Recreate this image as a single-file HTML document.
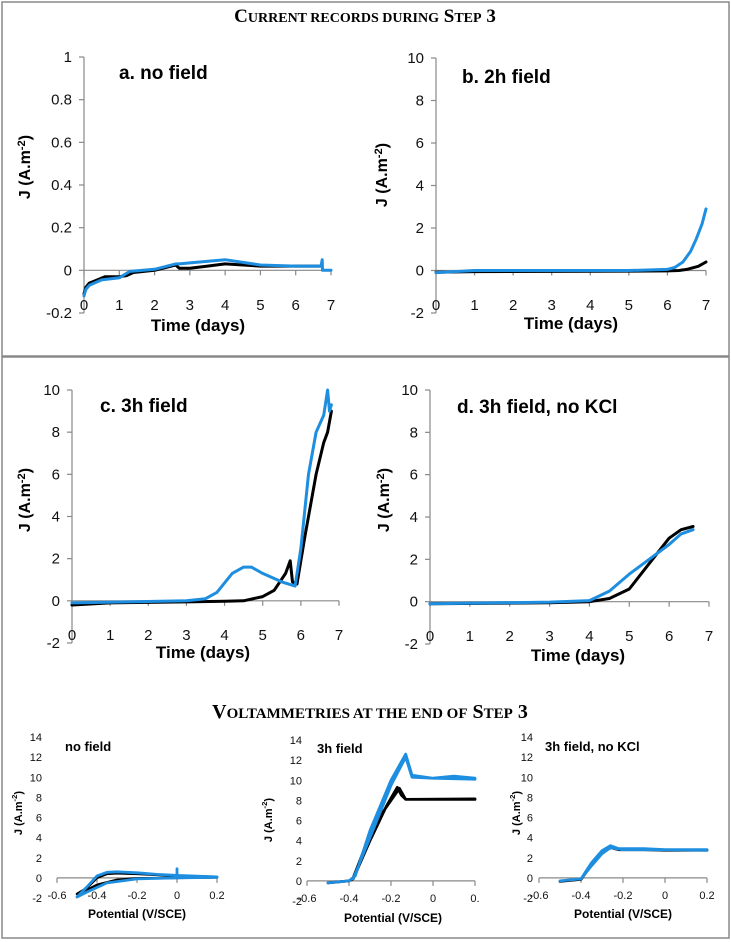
<!DOCTYPE html>
<html><head><meta charset="utf-8"><style>
html,body{margin:0;padding:0;background:#fff;}
svg{display:block;font-family:"Liberation Sans Narrow","Liberation Sans",sans-serif;}
.tk{font-size:15px;fill:#111;}
.tks{font-size:11px;fill:#111;}
.ttl{font-weight:bold;fill:#000;}
</style></head><body>
<svg id="fig" width="731" height="942" viewBox="0 0 731 942">
<rect x="2" y="2" width="727" height="354" fill="none" stroke="#888" stroke-width="1.5"/>
<rect x="2" y="357" width="727" height="581" fill="none" stroke="#888" stroke-width="1.5"/>
<text x="365" y="22" text-anchor="middle" font-family="Liberation Serif,serif" font-weight="bold" font-size="19">C<tspan font-size="14">URRENT RECORDS DURING</tspan> S<tspan font-size="14">TEP</tspan> 3</text>
<text x="370" y="718" text-anchor="middle" font-family="Liberation Serif,serif" font-weight="bold" font-size="20">V<tspan font-size="15">OLTAMMETRIES AT THE END OF</tspan> S<tspan font-size="15">TEP</tspan> 3</text>
<g id="charts"></g>
</svg>
<script>
// ---- chart a: no field ----
const aBlackX=[0,0.05,0.15,0.3,0.6,1.0,1.2,1.4,2,2.6,2.7,3,3.5,4,5,6,6.7];
const aBlackY=[-0.11,-0.08,-0.06,-0.05,-0.03,-0.03,-0.025,-0.01,0,0.025,0.01,0.01,0.02,0.03,0.02,0.02,0.02];
const aBlueX=[0,0.05,0.15,0.5,1,1.3,2,2.6,2.7,3,4,5,6,6.72,6.75,6.76,7];
const aBlueY=[-0.12,-0.09,-0.07,-0.045,-0.035,-0.005,0.005,0.03,0.03,0.035,0.05,0.025,0.02,0.02,0.05,0,0];
// ---- chart b: 2h field ----
const bBlackX=[0,1,3,5,6,6.3,6.5,6.8,7];
const bBlackY=[-0.08,-0.05,-0.04,-0.03,-0.02,0,0.05,0.2,0.4];
const bBlueX=[0,1,3,5,6,6.2,6.4,6.6,6.75,6.9,7];
const bBlueY=[-0.1,0,0,0,0.05,0.15,0.4,0.9,1.5,2.2,2.9];
// ---- chart c: 3h field ----
const cBlackX=[0,1,3,4,4.5,5,5.3,5.6,5.72,5.78,5.9,6.1,6.4,6.6,6.7,6.8];
const cBlackY=[-0.2,-0.1,-0.05,-0.02,0,0.2,0.5,1.3,1.9,0.9,0.8,3,6,7.5,8,9];
const cBlueX=[0,3,3.5,3.8,4.2,4.5,4.7,5,5.5,5.85,6,6.2,6.4,6.6,6.7,6.75,6.8];
const cBlueY=[-0.1,0,0.1,0.4,1.3,1.6,1.6,1.3,0.9,0.7,2.5,6,8,8.8,10,9,9.3];
// ---- chart d: 3h field, no KCl ----
const dBlackX=[0,3,4,4.5,5,5.5,6,6.3,6.6];
const dBlackY=[-0.1,-0.05,0,0.15,0.6,1.8,3,3.4,3.55];
const dBlueX=[0,3,4,4.5,5,5.5,6,6.3,6.6];
const dBlueY=[-0.1,-0.02,0.05,0.5,1.3,2,2.7,3.2,3.4];
// ---- CV 1: no field ----
const v1BlackX=[-0.5,-0.45,-0.4,-0.35,-0.3,-0.2,-0.1,0,0.2,0.2,0,-0.2,-0.3,-0.4,-0.45,-0.5];
const v1BlackY=[-1.6,-1,0,0.4,0.45,0.4,0.3,0.2,0.1,0.05,0,-0.05,-0.2,-0.7,-1.2,-1.6];
const v1BlueX=[-0.5,-0.45,-0.4,-0.35,-0.3,-0.2,-0.1,0,0,0,0.2,0.2,0,-0.2,-0.35,-0.45,-0.5];
const v1BlueY=[-1.9,-0.9,0.2,0.55,0.6,0.5,0.35,0.25,0.9,0.25,0.1,0.05,0,-0.1,-0.5,-1.4,-1.9];
// ---- CV 2: 3h field ----
const v2BlackX=[-0.5,-0.4,-0.38,-0.3,-0.22,-0.17,-0.15,-0.13,0,0.2,0.2,-0.13,-0.16,-0.25,-0.33,-0.38];
const v2BlackY=[-0.2,0,0.2,4,7.5,9.3,8.5,8.1,8.1,8.1,8.15,8.1,9.2,6.5,3,0.3];
const v2BlueX=[-0.5,-0.4,-0.37,-0.3,-0.2,-0.13,-0.1,0,0.1,0.2,0.2,0,-0.1,-0.13,-0.2,-0.3,-0.38];
const v2BlueY=[-0.2,0,0.5,5,10,12.6,10.5,10.2,10.4,10.2,10.1,10.2,10.3,12.3,9.5,4.3,0.2];
// ---- CV 3: 3h field, no KCl ----
const v3BlackX=[-0.5,-0.4,-0.35,-0.3,-0.26,-0.22,-0.1,0,0.2];
const v3BlackY=[-0.35,-0.15,1.3,2.5,3.0,2.8,2.8,2.75,2.75];
const v3BlueX=[-0.5,-0.4,-0.35,-0.3,-0.26,-0.22,-0.1,0,0.2,0.2,0,-0.2,-0.26,-0.3,-0.35,-0.4];
const v3BlueY=[-0.3,-0.1,1.5,2.7,3.2,2.9,2.9,2.8,2.8,2.75,2.8,2.8,3,2.4,1.2,-0.1];
// ---- tick labels ----
const aYTicks=["-0.2","0","0.2","0.4","0.6","0.8","1"];
const bigYTicks=["-2","0","2","4","6","8","10"];
const dayTicks=["0","1","2","3","4","5","6","7"];
const cvYTicks=["-2","0","2","4","6","8","10","12","14"];
const cvXTicks=["-0.6","-0.4","-0.2","0","0.2"];
const cvXTicks2=["-0.6","-0.4","-0.2","0","0."];
const cvXValues=[-0.6,-0.4,-0.2,0,0.2];

const NS="http://www.w3.org/2000/svg";
const root=document.getElementById('charts');
function mk(tag,attrs,parent){const e=document.createElementNS(NS,tag);for(const k in attrs)e.setAttribute(k,attrs[k]);(parent||root).appendChild(e);return e;}

function chart(o){
  const g=mk('g',{});
  
  
  const sx=v=>o.x0+(v-o.xmin)/(o.xmax-o.xmin)*(o.x1-o.x0);
  const sy=v=>o.y0+(v-o.ymin)/(o.ymax-o.ymin)*(o.y1-o.y0);
  const small=o.small;
  if(!small){
    const ya=mk('line',{x1:sx(o.xmin),x2:sx(o.xmin),y1:sy(o.ymin),y2:sy(o.ymax),stroke:'#888','stroke-width':1.2},g);
    
    
  }
  o.yticks.forEach((t,i)=>{
    const v=parseFloat(t);const y=sy(v);
    if(!small){const tl=mk('line',{x1:sx(o.xmin)-5,x2:sx(o.xmin),y1:y,y2:y,stroke:'#888','stroke-width':1.2},g);
      
      }
    const tx=mk('text',{x:small?o.ylabX:sx(o.xmin)-12,y:y+(small?4:5),'text-anchor':'end',class:small?'tks':'tk'},g);
    tx.textContent=t;
    
    
  });
  const y0=sy(0);
  const xa=mk('line',{x1:sx(o.xmin),x2:sx(o.xmax),y1:y0,y2:y0,stroke:'#888','stroke-width':1.2},g);
  
  
  o.xticks.forEach((t,i)=>{
    const v=o.xvals?o.xvals[i]:parseFloat(t);const x=sx(v);
    const tl=mk('line',{x1:x,x2:x,y1:y0,y2:y0+5,stroke:'#888','stroke-width':1.2},g);
    
    
    const tx=mk('text',{x:x,y:small?sy(o.ymin)+1:sy(o.ymin)-3,'text-anchor':'middle',class:small?'tks':'tk'},g);
    tx.textContent=t;
    
    
  });
  o.series.forEach(s=>{
    const d=s.x.map((v,i)=>(i?'L':'M')+sx(v).toFixed(1)+','+sy(s.y[i]).toFixed(1)).join('');
    const p=mk('path',{d:d,fill:'none',stroke:s.c,'stroke-width':s.w,'stroke-linejoin':'round','stroke-linecap':'round'},g);
    
    
  });
  const pt=mk('text',{x:o.tx,y:o.ty,class:'ttl','font-size':small?13:19},g);
  pt.textContent=o.title;
  
  
  const xl=mk('text',{x:o.xlx,y:o.xly,'text-anchor':'middle',class:'ttl','font-size':small?12:17},g);
  xl.textContent=o.xlabel;
  
  
  const yl=mk('text',{x:0,y:0,'text-anchor':'middle',class:'ttl','font-size':small?11:16,transform:`translate(${o.ylx},${o.yly}) rotate(-90)`},g);
  yl.innerHTML='J (A.m<tspan dy="-5" font-size="0.7em">-2</tspan><tspan dy="5">)</tspan>';
  
  
}
const BLK='#000',BLU='#1e8ee0';
chart({name:'chart-a-no-field',x0:84,x1:331,xmin:0,xmax:7,y0:313,y1:57,ymin:-0.2,ymax:1,yticks:aYTicks,xticks:dayTicks,
  tx:119,ty:79,title:'a. no field',xlabel:'Time (days)',xlx:198,xly:331,ylx:30,yly:167,
  series:[{x:aBlackX,y:aBlackY,c:BLK,w:3,name:'series-black-a'},{x:aBlueX,y:aBlueY,c:BLU,w:3,name:'series-blue-a'}]});
chart({name:'chart-b-2h-field',x0:436,x1:706,xmin:0,xmax:7,y0:313,y1:58,ymin:-2,ymax:10,yticks:bigYTicks,xticks:dayTicks,
  tx:462,ty:83,title:'b. 2h field',xlabel:'Time (days)',xlx:571,xly:329,ylx:387,yly:175,
  series:[{x:bBlackX,y:bBlackY,c:BLK,w:3,name:'series-black-b'},{x:bBlueX,y:bBlueY,c:BLU,w:3,name:'series-blue-b'}]});
chart({name:'chart-c-3h-field',x0:72,x1:339,xmin:0,xmax:7,y0:643,y1:390,ymin:-2,ymax:10,yticks:bigYTicks,xticks:dayTicks,
  tx:100,ty:412,title:'c. 3h field',xlabel:'Time (days)',xlx:203,xly:658,ylx:30,yly:500,
  series:[{x:cBlackX,y:cBlackY,c:BLK,w:3,name:'series-black-c'},{x:cBlueX,y:cBlueY,c:BLU,w:3,name:'series-blue-c'}]});
chart({name:'chart-d-3h-field-no-kcl',x0:430,x1:709,xmin:0,xmax:7,y0:644,y1:390,ymin:-2,ymax:10,yticks:bigYTicks,xticks:dayTicks,
  tx:457,ty:413,title:'d. 3h field, no KCl',xlabel:'Time (days)',xlx:578,xly:661,ylx:389,yly:500,
  series:[{x:dBlackX,y:dBlackY,c:BLK,w:3,name:'series-black-d'},{x:dBlueX,y:dBlueY,c:BLU,w:3,name:'series-blue-d'}]});
chart({small:true,name:'cv-no-field',x0:57,x1:217,xmin:-0.6,xmax:0.2,y0:898,y1:737,ymin:-2,ymax:14,yticks:cvYTicks,xticks:cvXTicks,xvals:cvXValues,ylabX:42,
  tx:65,ty:751,title:'no field',xlabel:'Potential (V/SCE)',xlx:137,xly:918,ylx:22,yly:813,
  series:[{x:v1BlackX,y:v1BlackY,c:BLK,w:2.5,name:'cv-black-1'},{x:v1BlueX,y:v1BlueY,c:BLU,w:2.8,name:'cv-blue-1'}]});
chart({small:true,name:'cv-3h-field',x0:307,x1:475,xmin:-0.6,xmax:0.2,y0:901,y1:740,ymin:-2,ymax:14,yticks:cvYTicks,xticks:cvXTicks2,xvals:cvXValues,ylabX:302,
  tx:317,ty:753,title:'3h field',xlabel:'Potential (V/SCE)',xlx:393,xly:922,ylx:272,yly:820,
  series:[{x:v2BlackX,y:v2BlackY,c:BLK,w:2.8,name:'cv-black-2'},{x:v2BlueX,y:v2BlueY,c:BLU,w:2.8,name:'cv-blue-2'}]});
chart({small:true,name:'cv-3h-field-no-kcl',x0:539,x1:707,xmin:-0.6,xmax:0.2,y0:898,y1:737,ymin:-2,ymax:14,yticks:cvYTicks,xticks:cvXTicks,xvals:cvXValues,ylabX:533,
  tx:545,ty:751,title:'3h field, no KCl',xlabel:'Potential (V/SCE)',xlx:623,xly:918,ylx:520,yly:813,
  series:[{x:v3BlackX,y:v3BlackY,c:BLK,w:2.8,name:'cv-black-3'},{x:v3BlueX,y:v3BlueY,c:BLU,w:2.8,name:'cv-blue-3'}]});
</script>
</body></html>
